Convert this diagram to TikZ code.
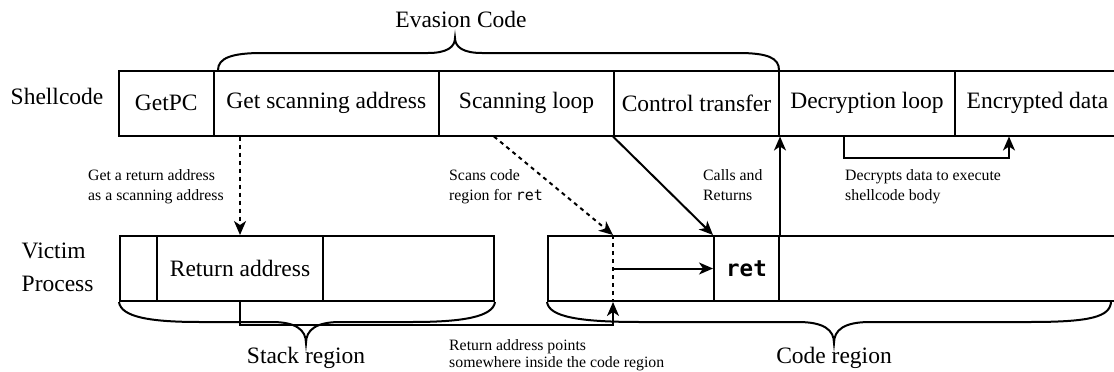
\documentclass[tikz,border=0pt]{standalone}
\usepackage{fontspec}
\setmainfont{Liberation Serif}
\newfontfamily\codefont{DejaVu Sans Mono}
\usetikzlibrary{arrows.meta,calc}

\tikzset{
  cell/.style={draw, line width=2pt, minimum height=65pt, inner sep=0pt,
               font=\fontsize{23.5}{28}\selectfont},
  big/.style={font=\fontsize{23.5}{33}\selectfont, inner sep=0pt},
  note/.style={font=\fontsize{15.8}{20.5}\selectfont, align=left, inner sep=0pt, anchor=north west},
  conn/.style={line width=2pt},
  arr/.style={conn, -{Stealth[length=14pt, width=12pt, inset=4pt]}},
  dasharr/.style={arr, dash pattern=on 4pt off 4pt},
  dashline/.style={conn, dash pattern=on 4pt off 4pt},
  brace/.style={line width=2pt},
}

\begin{document}
\begin{tikzpicture}[x=1pt, y=-1pt]
\useasboundingbox (0,0) rectangle (1114,372);
\clip (0,0) rectangle (1114,372);

% --- shellcode layout ---
\node[big, anchor=west] (shell) at (10.5,96) {Shellcode};
\node[cell, minimum width=94.6pt]  (getpc)  at (166.3,103) {GetPC};
\node[cell, minimum width=225.4pt] (gsa)    at (326.3,103) {Get scanning address};
\node[cell, minimum width=175pt]   (sloop)  at (526.5,103) {Scanning loop};
\node[cell, minimum width=165pt]   (ctrans) at (696.5,103) {Control transfer};
\node[cell, minimum width=176pt]   (dloop)  at (867,103)   {Decryption loop};
\node[cell, minimum width=165pt]   (edata)  at (1037.5,103) {Encrypted data};

% --- victim process memory ---
\node[big, anchor=west, align=left] (victim) at (21.5,267) {Victim\\Process};
\node[cell, minimum width=37pt]  (s1) at (138.5,268.5) {};
\node[cell, minimum width=166pt] (s2) at (240,268.5) {Return address};
\node[cell, minimum width=171pt] (s3) at (408.5,268.5) {};
\node[cell, minimum width=166pt] (c1) at (631,268.5) {};
\node[cell, minimum width=65pt, font=\codefont\bfseries\fontsize{22.5}{26}\selectfont] (ret) at (746.5,268.5) {\raisebox{-1.5pt}{ret}};
\node[cell, minimum width=341pt] (c3) at (949.5,268.5) {};

% --- braces ---
\draw[brace] (218,70) .. controls (218,58) and (232,53) .. (262,53) -- (428,53)
  .. controls (447,53) and (455,47) .. (455,38)
  .. controls (455,47) and (463,53) .. (482,53) -- (738,53)
  .. controls (768,53) and (779,58) .. (779,70);
\node[big] (evasion) at (461,19) {Evasion Code};

\draw[brace] (s1.south west) .. controls (121,317) and (150,322) .. (200,322) -- (272,322)
  .. controls (296,322) and (306,330) .. (306,343)
  .. controls (306,330) and (316,322) .. (340,322) -- (412,322)
  .. controls (462,322) and (493,317) .. (s3.south east);
\node[big] (stack) at (306,358) {Stack region};

\draw[brace] (c1.south west) .. controls (549,317) and (580,322) .. (640,322) -- (798,322)
  .. controls (824,322) and (834,330) .. (834,343)
  .. controls (834,330) and (844,322) .. (870,322) -- (1030,322)
  .. controls (1090,322) and (1111,317) .. (1111,301);
\node[big] (code) at (834,358) {Code region};

% --- connectors ---
\coordinate (hit) at (c1.north -| ctrans.south west);
\coordinate (hitlow) at (c1.south -| ctrans.south west);

\draw[dasharr] (s2.north |- gsa.south) -- (s2.north);
\draw[dasharr] ($(sloop.south west)+(56,0)$) -- (hit);
\draw[arr] (ctrans.south west) -- (ret.north west);
\draw[arr] (ret.north east) -- (ctrans.south east);
\draw[dashline] (hit) -- (hitlow);
\draw[arr] (s2.south) -- ++(0,22.5) -| (hitlow);
\draw[arr] (hit |- ret.west) -- (ret.west);
\draw[arr] ($(dloop.south west)+(66,0)$) -- ++(0,21.5) -| ($(edata.south west)+(55,0)$);

% --- annotations ---
\node[note] (n1) at (88,169) {Get a return address\\as a scanning address};
\node[note] (n2) at (449,169) {Scans code\\region for {\codefont\fontsize{15}{20}\selectfont ret}};
\node[note] (n3) at (703,169) {Calls and\\Returns};
\node[note] (n4) at (845,169) {Decrypts data to execute\\shellcode body};
\node[note, font=\fontsize{15.8}{17}\selectfont] (n5) at (449,339) {Return address points\\somewhere inside the code region};
\end{tikzpicture}
\end{document}
